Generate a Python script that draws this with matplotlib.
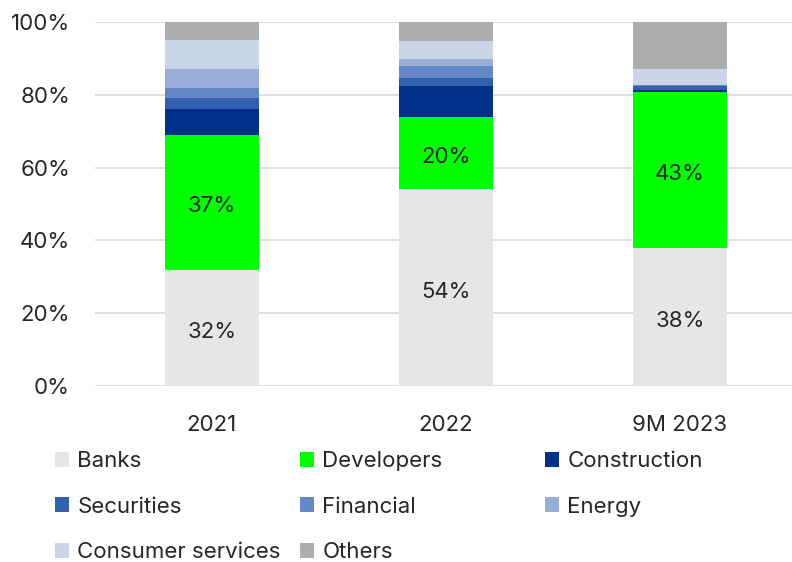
import matplotlib
matplotlib.use("Agg")
import matplotlib.pyplot as plt
import numpy as np

plt.rcParams['font.family'] = ['Inter', 'DejaVu Sans']

categories = ["2021", "2022", "9M 2023"]
series_names = ["Banks", "Developers", "Construction", "Securities",
                "Financial", "Energy", "Consumer services", "Others"]
banks = [32.0, 54.0, 37.8]
developers = [37.0, 20.0, 42.9]
construction = [7.0, 8.4, 0.5]
securities = [3.0, 2.1, 1.3]
financial = [3.0, 3.3, 0.2]
energy = [5.0, 2.1, 0.0]
consumer_services = [8.0, 4.8, 4.4]
others = [5.0, 5.3, 12.9]
labels_banks = ["32%", "54%", "38%"]
labels_dev = ["37%", "20%", "43%"]

colors = ["#E6E6E6", "#00FF00", "#003087", "#3560B0",
          "#6487C5", "#98AED6", "#CBD5E8", "#ADADAD"]
text_color = "#262626"

data = [banks, developers, construction, securities, financial,
        energy, consumer_services, others]

fig = plt.figure(figsize=(7.92, 5.62), dpi=100)
W, H = 792, 562
ax = fig.add_axes([95 / W, (H - 386) / H, 702 / W, 364 / H])

x = np.arange(len(categories))
bottom = np.zeros(len(categories))
containers = []
for vals, name, c in zip(data, series_names, colors):
    v = np.array(vals)
    bc = ax.bar(x, v, width=0.4, bottom=bottom, color=c, label=name,
                zorder=3, linewidth=0)
    containers.append(bc)
    bottom = bottom + v

for bc, labs in ((containers[0], labels_banks), (containers[1], labels_dev)):
    texts = ax.bar_label(bc, labels=labs, label_type='center',
                         fontsize=16, color=text_color)
    for t in texts:
        t.xyann = (0, -3)

ax.set_xlim(-0.5, 2.5)
ax.set_ylim(0, 100)
ax.set_yticks(np.arange(0, 101, 20))
ax.set_yticklabels([f"{v}%" for v in range(0, 101, 20)])
ax.set_xticks(x)
ax.set_xticklabels(categories)
ax.tick_params(axis='both', length=0, labelsize=16, colors=text_color)
ax.tick_params(axis='y', pad=18)
ax.tick_params(axis='x', pad=21)
ax.yaxis.grid(True, color="#D9D9D9", linewidth=1.2, zorder=0)
ax.set_axisbelow(True)
for s in ax.spines.values():
    s.set_visible(False)

# legend in three columns
col_members = [[0, 3, 6], [1, 4, 7], [2, 5]]
col_x = [55, 300, 545]
for members, cx in zip(col_members, col_x):
    leg = fig.legend([containers[i] for i in members],
                     [series_names[i] for i in members],
                     loc='upper left', bbox_to_anchor=(cx / W, 1 - 451 / H),
                     frameon=False, fontsize=16, handlelength=0.65,
                     handleheight=0.65, handletextpad=0.35,
                     labelspacing=1.15, borderpad=0, borderaxespad=0)
    for t in leg.get_texts():
        t.set_color(text_color)

fig.savefig("out.png", dpi=100)
